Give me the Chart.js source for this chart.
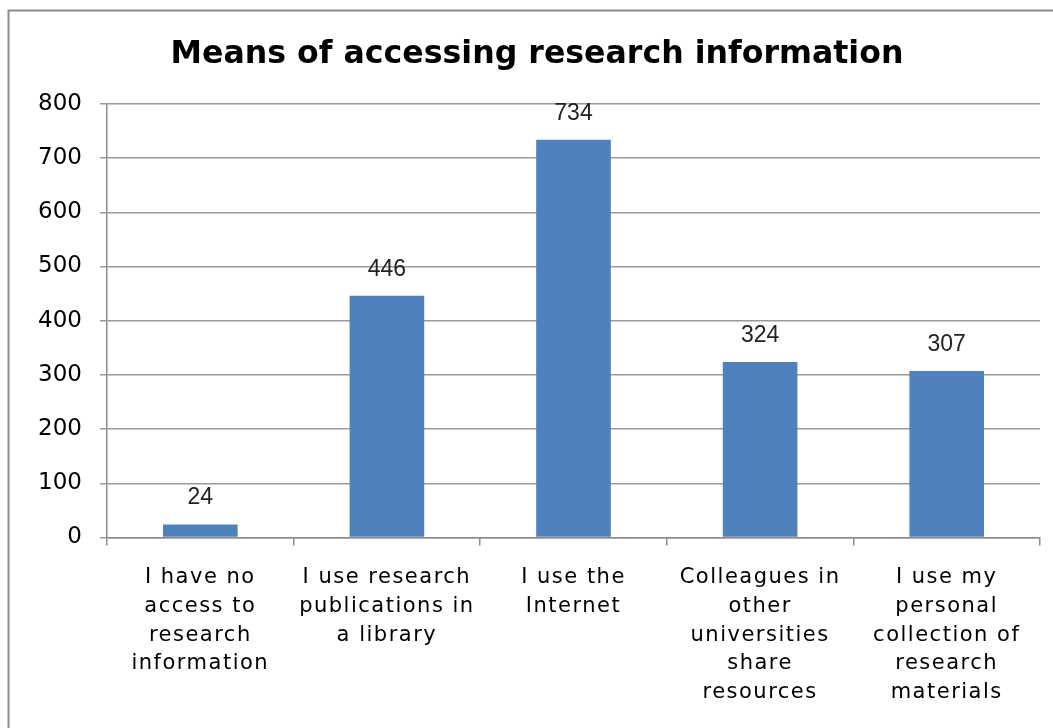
<!DOCTYPE html>
<html>
<head>
<meta charset="utf-8">
<title>Means of accessing research information</title>
<script src="https://cdn.jsdelivr.net/npm/chart.js@4.4.1/dist/chart.umd.min.js"></script>
<style>
  html, body { margin: 0; padding: 0; background: #fff; }
  #wrap { position: relative; width: 1053px; height: 728px; }
</style>
</head>
<body>
<div id="wrap"><canvas id="barChart"></canvas></div>
<script>
const categories = [
  ['I have no', 'access to', 'research', 'information'],
  ['I use research', 'publications in', 'a library'],
  ['I use the', 'Internet'],
  ['Colleagues in', 'other', 'universities', 'share', 'resources'],
  ['I use my', 'personal', 'collection of', 'research', 'materials']
];
const counts = [24, 446, 734, 324, 307];
const yMax = 800;
const yStep = 100;

// grey frame around the whole chart
const framePlugin = {
  id: 'frame',
  beforeDraw(chart) {
    const ctx = chart.ctx;
    ctx.save();
    ctx.strokeStyle = '#8c8c8c';
    ctx.lineWidth = 2;
    ctx.strokeRect(8.5, 10.5, 2000, 2000);
    ctx.restore();
  }
};

// numbers above each bar, then widen the letters for the category labels drawn next
const valueLabels = {
  id: 'valueLabels',
  afterDatasetsDraw(chart) {
    const ctx = chart.ctx;
    const meta = chart.getDatasetMeta(0);
    ctx.save();
    ctx.letterSpacing = '0px';
    ctx.font = '23px "Liberation Sans", sans-serif';
    ctx.fillStyle = '#222';
    ctx.textAlign = 'center';
    ctx.textBaseline = 'alphabetic';
    meta.data.forEach((bar, i) => {
      ctx.fillText(String(chart.data.datasets[0].data[i]), bar.x, bar.y - 20);
    });
    ctx.restore();
    ctx.letterSpacing = '1.5px';
  },
  afterDraw(chart) {
    chart.ctx.letterSpacing = '0px';
  }
};

const ctx = document.getElementById('barChart').getContext('2d');

new Chart(ctx, {
  type: 'bar',
  data: {
    labels: categories,
    datasets: [{
      data: counts,
      backgroundColor: '#4f81bd',
      borderWidth: 0,
      barPercentage: 0.4,
      categoryPercentage: 1
    }]
  },
  options: {
    responsive: true,
    maintainAspectRatio: false,
    animation: false,
    layout: {
      padding: { left: 34, right: 13, top: 20, bottom: 3 }
    },
    plugins: {
      legend: { display: false },
      tooltip: { enabled: false },
      title: {
        display: true,
        text: 'Means of accessing research information',
        color: '#000',
        font: { family: 'DejaVu Sans', size: 31.6, weight: 'bold' },
        padding: { top: 16, bottom: 30 }
      }
    },
    scales: {
      x: {
        grid: {
          offset: true,
          drawOnChartArea: false,
          drawTicks: true,
          tickLength: 8,
          color: '#8c8c8c',
          lineWidth: 1.5
        },
        border: { color: '#8c8c8c', width: 1.5 },
        ticks: {
          z: 1,
          color: '#000',
          padding: 18,
          maxRotation: 0,
          autoSkip: false,
          font: { family: 'DejaVu Sans', size: 21, lineHeight: '28.7px' }
        }
      },
      y: {
        min: 0,
        max: yMax,
        afterFit(scale) {
          scale.width = 73;
        },
        grid: {
          color: '#9a9a9a',
          lineWidth: 1.5,
          tickLength: 7
        },
        border: { color: '#8c8c8c', width: 1.5 },
        ticks: {
          stepSize: yStep,
          color: '#000',
          padding: 18,
          font: { family: 'DejaVu Sans', size: 23 }
        }
      }
    }
  },
  plugins: [framePlugin, valueLabels]
});
</script>
</body>
</html>
